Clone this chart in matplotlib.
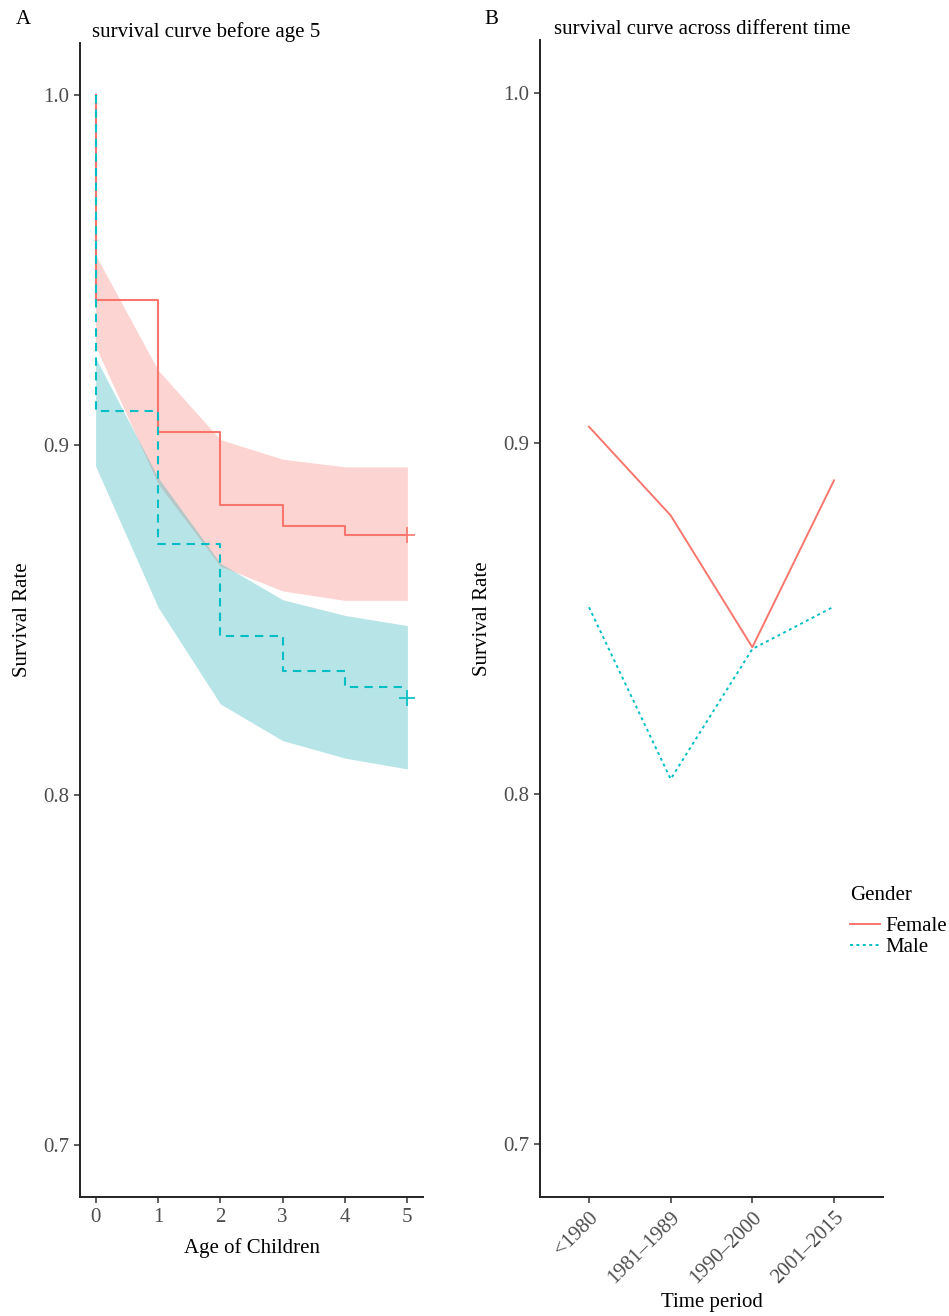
import numpy as np
import matplotlib.pyplot as plt

plt.rcParams['font.family'] = ['Liberation Serif', 'DejaVu Serif']

# ---------------- data: panel A (survival before age 5) ----------------
age = [0, 1, 2, 3, 4, 5]
female_km = [0.9415, 0.9038, 0.8830, 0.8770, 0.8744, 0.8744]
male_km = [0.9097, 0.8716, 0.8454, 0.8353, 0.8308, 0.8308]
female_censor = 0.8744
male_censor = 0.8276

female_upper = [0.9544, 0.9215, 0.9016, 0.8960, 0.8938, 0.8938]
female_lower = [0.9282, 0.8890, 0.8654, 0.8583, 0.8556, 0.8556]
male_upper = [0.9250, 0.8908, 0.8662, 0.8558, 0.8513, 0.8484]
male_lower = [0.8940, 0.8537, 0.8260, 0.8155, 0.8105, 0.8074]

# ---------------- data: panel B (across time periods) ----------------
periods = ['<1980', '1981\u20131989', '1990\u20132000', '2001\u20132015']
female_rate = [0.9047, 0.8794, 0.8418, 0.8894]
male_rate = [0.8532, 0.8042, 0.8413, 0.8534]

RED = '#F8766D'
TEAL = '#00BFC4'
TICK_COL = '#4D4D4D'
FS = 15

fig = plt.figure(figsize=(9.49, 13.16), dpi=100)
W, H = 949, 1316


def style(ax):
    for s in ['top', 'right']:
        ax.spines[s].set_visible(False)
    for s in ['left', 'bottom']:
        ax.spines[s].set_linewidth(1.4)
        ax.spines[s].set_color('#222222')
    ax.tick_params(length=4, width=1.1, color='#333333', labelsize=FS,
                   labelcolor=TICK_COL, pad=4)
    ax.set_ylim(0.685, 1.015)
    ax.set_yticks([0.7, 0.8, 0.9, 1.0])
    ax.set_yticklabels(['0.7', '0.8', '0.9', '1.0'])


# ---------------- panel A ----------------
axA = fig.add_axes([80 / W, (H - 1197) / H, 343 / W, 1154 / H])
style(axA)
axA.fill_between(age, female_lower, female_upper, color=RED, alpha=0.3, lw=0, zorder=1)
axA.fill_between(age, male_lower, male_upper, color='#0AA5AF', alpha=0.29, lw=0, zorder=1)

xs = [0] + age
axA.step(xs, [1.0] + female_km, where='post', color=RED, lw=1.5, zorder=3)
axA.step(xs, [1.0] + male_km, where='post', color=TEAL, lw=1.5, ls=(0, (4, 3)), zorder=4)
axA.plot([5], [female_censor], marker='+', color=RED, ms=11, mew=1.2, zorder=5)
axA.plot([5], [male_censor], marker='+', color=TEAL, ms=11, mew=1.2, zorder=5)

axA.set_xlim(-0.25, 5.25)
axA.set_xticks(age)
axA.set_xlabel('Age of Children', fontsize=FS, labelpad=8)
axA.set_ylabel('Survival Rate', fontsize=FS, labelpad=8)
axA.set_title('survival curve before age 5', fontsize=FS, loc='left', pad=4, x=0.035)
fig.text(16 / W, 1 - 20 / H, 'A', fontsize=FS, va='center', ha='left')

# ---------------- panel B ----------------
axB = fig.add_axes([540 / W, (H - 1197) / H, 343 / W, 1157 / H])
style(axB)
xpos = np.arange(1, len(periods) + 1)
axB.plot(xpos, female_rate, color=RED, lw=1.4, label='Female')
axB.plot(xpos, male_rate, color=TEAL, lw=1.4, ls=(0, (1.5, 1.8)), label='Male')
axB.set_xlim(0.4, 4.6)
axB.set_xticks(xpos)
axB.set_xticklabels(periods, rotation=45, ha='right', va='top',
                    rotation_mode='anchor')
axB.set_xlabel('Time period', fontsize=FS, labelpad=4)
axB.set_ylabel('Survival Rate', fontsize=FS, labelpad=8)
axB.set_title('survival curve across different time', fontsize=FS, loc='left',
              pad=4, x=0.04)
fig.text(484 / W, 1 - 20 / H, 'B', fontsize=FS, va='center', ha='left')

leg = axB.legend(title='Gender', loc='center left', bbox_to_anchor=(0.905, 0.238),
                 frameon=False, fontsize=FS, title_fontsize=FS, handlelength=1.4,
                 handletextpad=0.3, labelspacing=0.05, borderaxespad=0,
                 borderpad=0)
leg._legend_box.align = 'left'
leg._legend_box.sep = 8

fig.savefig('out.png', dpi=100)
